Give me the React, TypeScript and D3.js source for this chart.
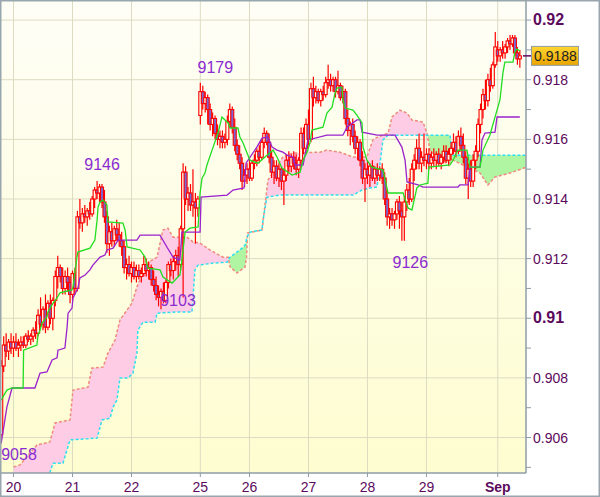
import React from "react";
import * as d3 from "d3";

type Candle = [number, number, number, number]; // open, high, low, close (price x 10000)
type Pt = [number, number]; // bar index, price x 10000

const aug19: Candle[] = [
  [9061, 9086, 9058, 9084], [9084, 9094, 9082, 9091], [9091, 9095, 9087, 9089], [9089, 9093, 9086, 9092], [9092, 9095, 9088, 9090],
];
const aug20: Candle[] = [
  [9090, 9094, 9087, 9092], [9092, 9095, 9089, 9090], [9090, 9093, 9087, 9091], [9091, 9094, 9089, 9092],
  [9092, 9094, 9090, 9091], [9091, 9095, 9090, 9094], [9094, 9096, 9092, 9093], [9093, 9095, 9091, 9094],
  [9094, 9097, 9092, 9096], [9096, 9099, 9093, 9095], [9095, 9103, 9094, 9101], [9101, 9107, 9097, 9098],
  [9098, 9104, 9096, 9103], [9103, 9108, 9095, 9097], [9097, 9106, 9096, 9105], [9105, 9108, 9098, 9100],
  [9100, 9107, 9096, 9106], [9106, 9116, 9104, 9114], [9114, 9121, 9110, 9117], [9117, 9118, 9112, 9114],
  [9114, 9117, 9108, 9110], [9110, 9116, 9108, 9114], [9114, 9117, 9109, 9112], [9112, 9114, 9105, 9108],
];
const aug21: Candle[] = [
  [9108, 9116, 9106, 9115], [9115, 9117, 9108, 9110], [9110, 9136, 9109, 9134], [9134, 9140, 9130, 9132],
  [9132, 9137, 9129, 9135], [9135, 9138, 9132, 9134], [9134, 9137, 9131, 9136], [9136, 9139, 9133, 9135],
  [9135, 9141, 9134, 9140], [9140, 9144, 9137, 9143], [9143, 9146, 9140, 9142], [9142, 9145, 9139, 9144],
  [9144, 9145, 9137, 9139], [9139, 9143, 9132, 9134], [9134, 9136, 9122, 9125], [9125, 9131, 9121, 9129],
  [9129, 9132, 9124, 9126], [9126, 9131, 9124, 9130], [9130, 9133, 9126, 9128], [9128, 9132, 9124, 9126],
  [9126, 9129, 9121, 9124], [9124, 9126, 9115, 9117], [9117, 9120, 9113, 9118], [9118, 9121, 9114, 9115],
];
const aug22: Candle[] = [
  [9115, 9119, 9112, 9117], [9117, 9119, 9113, 9114], [9114, 9118, 9112, 9116], [9116, 9118, 9113, 9114],
  [9114, 9117, 9112, 9115], [9115, 9121, 9114, 9118], [9118, 9120, 9114, 9116], [9116, 9119, 9113, 9117],
  [9117, 9118, 9111, 9113], [9113, 9116, 9109, 9111], [9111, 9114, 9106, 9108], [9108, 9111, 9104, 9107],
  [9107, 9110, 9103, 9109], [9109, 9112, 9105, 9106], [9106, 9113, 9105, 9112], [9112, 9119, 9110, 9118],
  [9118, 9120, 9114, 9116], [9116, 9121, 9113, 9119], [9119, 9123, 9116, 9121], [9121, 9124, 9114, 9118],
  [9118, 9131, 9116, 9130], [9130, 9152, 9107, 9149], [9149, 9151, 9138, 9140], [9140, 9144, 9136, 9142],
  [9142, 9145, 9136, 9138], [9138, 9150, 9134, 9139], [9139, 9142, 9125, 9137], [9137, 9141, 9134, 9140],
];
const aug25: Candle[] = [
  [9168, 9179, 9165, 9176], [9176, 9178, 9170, 9172], [9172, 9176, 9169, 9174], [9174, 9175, 9165, 9170],
  [9170, 9172, 9163, 9165], [9165, 9169, 9161, 9167], [9167, 9168, 9160, 9162], [9162, 9165, 9158, 9160],
  [9160, 9163, 9157, 9161], [9161, 9163, 9157, 9159], [9159, 9162, 9157, 9160], [9160, 9168, 9158, 9166],
  [9166, 9172, 9164, 9170], [9170, 9171, 9162, 9164], [9164, 9167, 9156, 9158], [9158, 9160, 9153, 9155],
  [9155, 9158, 9150, 9152], [9152, 9154, 9143, 9146], [9146, 9150, 9144, 9148], [9148, 9152, 9145, 9150],
];
const aug26: Candle[] = [
  [9150, 9154, 9146, 9147], [9147, 9153, 9146, 9152], [9152, 9155, 9150, 9153], [9153, 9157, 9151, 9156],
  [9156, 9158, 9152, 9154], [9154, 9160, 9153, 9159], [9159, 9164, 9157, 9162], [9162, 9163, 9158, 9159],
  [9159, 9162, 9152, 9154], [9154, 9156, 9147, 9149], [9149, 9153, 9145, 9151], [9151, 9153, 9146, 9147],
  [9147, 9152, 9144, 9150], [9150, 9151, 9143, 9146], [9146, 9150, 9138, 9148], [9148, 9155, 9146, 9153],
  [9153, 9156, 9149, 9151], [9151, 9155, 9149, 9154], [9154, 9156, 9150, 9152], [9152, 9155, 9148, 9150],
  [9150, 9154, 9147, 9153], [9153, 9164, 9151, 9162], [9162, 9164, 9155, 9157], [9157, 9167, 9155, 9165],
];
const aug27: Candle[] = [
  [9165, 9170, 9158, 9160], [9160, 9179, 9159, 9177], [9177, 9181, 9171, 9174], [9174, 9178, 9172, 9176],
  [9176, 9177, 9172, 9173], [9173, 9177, 9171, 9176], [9176, 9178, 9173, 9175], [9175, 9181, 9174, 9179],
  [9179, 9185, 9177, 9180], [9180, 9182, 9176, 9178], [9178, 9181, 9176, 9180], [9180, 9181, 9174, 9176],
  [9176, 9183, 9175, 9178], [9178, 9179, 9173, 9174], [9174, 9178, 9172, 9176], [9176, 9177, 9165, 9167],
  [9167, 9170, 9161, 9163], [9163, 9166, 9158, 9165], [9165, 9167, 9159, 9161], [9161, 9163, 9155, 9157],
  [9157, 9161, 9153, 9159], [9159, 9160, 9151, 9153], [9153, 9156, 9145, 9147], [9147, 9152, 9139, 9150],
];
const aug28: Candle[] = [
  [9150, 9153, 9145, 9148], [9148, 9152, 9144, 9151], [9151, 9153, 9146, 9147], [9147, 9151, 9145, 9150],
  [9150, 9152, 9146, 9148], [9148, 9151, 9146, 9150], [9150, 9152, 9145, 9147], [9147, 9149, 9138, 9140],
  [9140, 9143, 9131, 9134], [9134, 9137, 9130, 9135], [9135, 9137, 9131, 9133], [9133, 9136, 9130, 9135],
  [9135, 9140, 9133, 9139], [9139, 9141, 9130, 9136], [9136, 9139, 9126, 9134], [9134, 9141, 9126, 9139],
  [9139, 9145, 9136, 9143], [9143, 9147, 9138, 9140], [9140, 9152, 9139, 9150], [9150, 9155, 9146, 9153],
  [9153, 9160, 9150, 9157], [9157, 9162, 9150, 9152], [9152, 9156, 9149, 9154], [9154, 9162, 9151, 9153],
];
const aug29: Candle[] = [
  [9153, 9157, 9150, 9155], [9155, 9157, 9150, 9152], [9152, 9156, 9150, 9154], [9154, 9157, 9151, 9153],
  [9153, 9156, 9150, 9155], [9155, 9157, 9151, 9152], [9152, 9155, 9150, 9154], [9154, 9158, 9152, 9156],
  [9156, 9158, 9152, 9153], [9153, 9157, 9151, 9155], [9155, 9159, 9153, 9157], [9157, 9162, 9155, 9159],
  [9159, 9161, 9154, 9156], [9156, 9163, 9155, 9161], [9161, 9164, 9156, 9158], [9158, 9162, 9152, 9154],
  [9154, 9156, 9145, 9147], [9147, 9152, 9140, 9150], [9150, 9153, 9144, 9146], [9146, 9155, 9144, 9153],
  [9153, 9158, 9150, 9156], [9156, 9167, 9154, 9165], [9165, 9172, 9162, 9170], [9170, 9177, 9167, 9175],
  [9175, 9180, 9170, 9173], [9173, 9182, 9171, 9180], [9180, 9184, 9176, 9178], [9178, 9186, 9177, 9185],
  [9185, 9196, 9184, 9191],
];
const sep1: Candle[] = [
  [9190, 9193, 9186, 9188], [9188, 9191, 9186, 9190], [9190, 9193, 9187, 9189], [9189, 9192, 9187, 9191],
  [9191, 9194, 9189, 9193], [9193, 9195, 9190, 9192], [9192, 9195, 9191, 9194], [9194, 9195, 9188, 9189],
  [9189, 9191, 9185, 9187], [9187, 9190, 9184, 9188],
];
const candles: Candle[] = [...aug19, ...aug20, ...aug21, ...aug22, ...aug25, ...aug26, ...aug27, ...aug28, ...aug29, ...sep1];

const tenkan: Pt[] = [
  [0, 9072.6], [2.3, 9075.9], [4.4, 9076.6], [8.9, 9076.6], [9.1, 9089.3], [14.5, 9091], [15, 9094.4], [15.8, 9096],
  [16.6, 9098.4], [18.6, 9100.4], [19, 9102.1], [21.1, 9105.1], [22.7, 9106.8], [23.9, 9108.5], [28.8, 9109.5],
  [29.2, 9110.5], [30.8, 9120.5], [31.2, 9122.2], [36.1, 9123.5], [38.1, 9126.2], [39, 9132.9], [39.4, 9137.3],
  [40.2, 9139], [41.4, 9139.6], [43, 9138], [43.4, 9132.3], [49.5, 9131.9], [50.4, 9129.6], [51.2, 9123.9],
  [56.5, 9122.9], [58.5, 9120.5], [59.7, 9116.8], [64.6, 9116.2], [65.8, 9113.8], [69.5, 9111.8], [72.7, 9114.5],
  [73.5, 9119.5], [74.8, 9128.9], [76.8, 9130.2], [80.1, 9130.6], [80.9, 9142], [81.7, 9147], [82.9, 9148.7],
  [83.7, 9151.4], [86.2, 9157.4], [88.2, 9162.1], [89.8, 9167.5], [92.3, 9165.5], [93.1, 9163.8], [96.3, 9163.8],
  [97.1, 9160.8], [98.4, 9158.8], [100, 9155.4], [101.2, 9153], [104.5, 9152], [107.3, 9154.1], [110.6, 9156.4],
  [112.2, 9154.1], [114.2, 9150.4], [118.3, 9148], [121.6, 9149], [122.8, 9153], [124.4, 9155.7], [125.6, 9158.8],
  [126.4, 9163.1], [130.9, 9164.1], [132.5, 9168.8], [134.6, 9170.8], [135.8, 9175.5], [136.6, 9177.2],
  [138.6, 9177.5], [139, 9173.2], [139.9, 9170.5], [143.1, 9169.8], [144.7, 9168.1], [146.8, 9165.5],
  [147.2, 9157.4], [148.8, 9153], [150.8, 9150.7], [155.3, 9149.7], [157.4, 9142], [163.5, 9142], [165.5, 9137],
  [167.1, 9136.3], [169.1, 9143.7], [170.4, 9144.7], [173.6, 9145.3], [174, 9150.7], [182.6, 9151.4], [183.8, 9153],
  [185.8, 9156.4], [189.5, 9156.4], [190.7, 9150.7], [194.8, 9150.7], [196, 9156.4], [198.8, 9161.4],
  [201.7, 9169.8], [202.9, 9173.2], [204.1, 9182.2], [204.9, 9185.9], [208.2, 9185.9], [209, 9189.3],
  [209.8, 9190.3], [211, 9189.6],
];

const kijun: Pt[] = [
  [0, 9058.2], [2.3, 9070.2], [4.4, 9076.6], [13.7, 9076.6], [15.8, 9081.6], [18.6, 9082], [20.7, 9086],
  [22.7, 9086.7], [23.1, 9089.3], [25.9, 9090], [26.8, 9097], [27.2, 9101.7], [28.8, 9103.4], [29.2, 9106.8],
  [31.2, 9110.1], [32, 9113.5], [34.1, 9114.5], [36.1, 9116.2], [37.3, 9117.8], [40.2, 9120.5], [42.2, 9121.2],
  [43, 9122.9], [45.5, 9123.5], [47.1, 9125.6], [47.5, 9126.2], [55.2, 9126.2], [56.5, 9127.9], [64.6, 9127.9],
  [67.4, 9123.9], [69.9, 9120.5], [72.7, 9119.5], [73.5, 9128.9], [80.9, 9128.9], [81.3, 9140.6], [91.9, 9141.3],
  [94.3, 9143], [98.8, 9143.7], [99.6, 9152], [104, 9157.4], [106.1, 9160.4], [108.5, 9160.8], [110.2, 9157.4],
  [112.2, 9156.4], [114.6, 9155.7], [116.3, 9154.7], [118.7, 9154], [119.5, 9151.4], [122.8, 9151.4],
  [124.8, 9159.8], [132.5, 9161.4], [139, 9161.4], [140.7, 9164.1], [144.7, 9166.5], [146, 9166.5],
  [146.8, 9162.4], [152.9, 9161.4], [160.2, 9161.4], [163, 9157.4], [164.3, 9153], [165.1, 9145.7],
  [169.6, 9144.7], [171.6, 9144], [185.8, 9144], [186.6, 9144.7], [189.9, 9144.7], [190.7, 9150.7],
  [194.8, 9150.7], [195.6, 9159.8], [196.8, 9162.1], [200.9, 9162.4], [201.7, 9167.5], [211, 9167.5],
];

const spanA: Pt[] = [
  [5, 9050.1], [7.6, 9050.8], [14.5, 9057.5], [19.8, 9058.5], [21.9, 9064.9], [28, 9065.9], [29.2, 9075.9],
  [35.3, 9076.9], [36.9, 9083.3], [41.4, 9083.6], [43.4, 9088.3], [46.3, 9092.7], [48.3, 9099.4], [53.2, 9105.1],
  [55.2, 9110.5], [59.3, 9118.5], [63.4, 9120.5], [65.8, 9129.6], [67.8, 9130.2], [69.9, 9127.2], [75.6, 9127.2],
  [78, 9125.6], [80.9, 9125.2], [84.9, 9122.9], [90.2, 9120.5], [92.3, 9120.5], [93.1, 9117.2], [95.9, 9115.2],
  [99.2, 9117.2], [99.8, 9120.5], [100.2, 9128.6], [106.1, 9129.6], [106.5, 9132.3], [108.5, 9146.3],
  [114.6, 9154.1], [118.7, 9155.4], [129.7, 9155.7], [132.5, 9156.4], [137.8, 9155.7], [143.1, 9154.1],
  [148.8, 9154.1], [151.2, 9159.8], [153.3, 9160.8], [157.4, 9162.1], [159, 9167.5], [162.2, 9169.8],
  [165.1, 9168.8], [167.1, 9166.5], [171.6, 9165.8], [173.2, 9162.1], [174.4, 9156.4], [178.5, 9153],
  [182.6, 9152], [183.8, 9153], [194.8, 9148.7], [198, 9144.7], [200.9, 9147.4], [207, 9148.7], [213.5, 9150.6],
];

const spanB: Pt[] = [
  [5, 9045.7], [19, 9046.4], [21.1, 9051.4], [25.1, 9051.4], [28, 9059.2], [39, 9059.8], [41, 9065.9],
  [44.3, 9066.5], [45.5, 9070.2], [47.1, 9072.6], [48.3, 9080], [51.6, 9080], [53.6, 9081.6], [55.2, 9088.3],
  [55.6, 9096], [57.7, 9098.7], [62.6, 9098.7], [63.4, 9101.7], [71.5, 9102.1], [77.6, 9102.1], [78.8, 9116.2],
  [80.1, 9117.8], [86.2, 9118.5], [91.9, 9118.8], [93.1, 9120.5], [98, 9123.5], [99.2, 9124.5], [100, 9127.2],
  [101.2, 9128.9], [106.1, 9129.6], [106.5, 9132.9], [108.1, 9140.6], [113.4, 9141.3], [143.1, 9141.3],
  [146.8, 9143], [150, 9143.7], [152.9, 9144], [155.3, 9159.8], [157.4, 9161.4], [182.6, 9161.4],
  [183.4, 9154.7], [213.5, 9154.7],
];

const dayLabels = ["20", "21", "22", "25", "26", "27", "28", "29", "Sep"];
const dayStartBar = [5, 29, 53, 81, 101, 125, 149, 173, 202];

const yTickValues = [9060, 9080, 9100, 9120, 9140, 9160, 9180, 9200];
const yTickLabels = ["0.906", "0.908", "0.91", "0.912", "0.914", "0.916", "0.918", "0.92"];
const yMinorValues = [9050, 9070, 9090, 9110, 9130, 9150, 9170, 9190];

const extremeText = ["9058", "9146", "9179", "9103", "9126"];
const extremeBar = [0, 39, 81, 65, 164];
const extremeValue = [9058, 9146, 9179, 9103, 9126];

const lastPriceLabel = "0.9188";
const lastPrice = 9188;

export default function App() {
  const W = 600, H = 497;
  const PL = 0, PR = 526, PT = 1, PB = 473;
  const x = d3.scaleLinear().domain([-0.5, 213.5]).range([PL, PR]);
  const y = d3.scaleLinear().domain([9048.1, 9206.4]).range([PB, PT]);

  const aS = d3.scaleLinear().domain(spanA.map((d) => d[0])).range(spanA.map((d) => d[1]));
  const bS = d3.scaleLinear().domain(spanB.map((d) => d[0])).range(spanB.map((d) => d[1]));
  const bars = Array.from(new Set([...spanA.map((d) => d[0]), ...spanB.map((d) => d[0])])).sort((a, b) => a - b);
  const cloud = bars.map((b) => ({ b, a: aS(b), s: bS(b) }));

  const between = d3.area<any>().x((d) => x(d.b)).y0((d) => y(d.s)).y1((d) => y(d.a));
  const belowA = d3.area<any>().x((d) => x(d.b)).y0(H + 50).y1((d) => y(d.a));
  const aboveA = d3.area<any>().x((d) => x(d.b)).y0(-50).y1((d) => y(d.a));
  const ptLine = d3.line<Pt>().x((d) => x(d[0])).y((d) => y(d[1]));

  const font = "'Liberation Sans', Arial, sans-serif";
  const axisColor = "#8e9ca6";
  const textColor = "#5c0a5c";
  const extremeOffsets = [
    { dx: 0, dy: 17, anchor: "start" },
    { dx: 5, dy: -11, anchor: "middle" },
    { dx: 15, dy: -10, anchor: "middle" },
    { dx: 17, dy: -3, anchor: "middle" },
    { dx: 6, dy: 27, anchor: "middle" },
  ];
  const yl = y(lastPrice);

  return (
    <svg width={W} height={H} style={{ position: "absolute", left: 0, top: 0, display: "block" }} fontFamily={font}>
      <defs>
        <linearGradient id="bg" x1="0" y1="0" x2="0" y2="1">
          <stop offset="0" stopColor="#fefef7" />
          <stop offset="1" stopColor="#fefdd0" />
        </linearGradient>
        <linearGradient id="tag" x1="0" y1="0" x2="0" y2="1">
          <stop offset="0" stopColor="#ffd633" />
          <stop offset="1" stopColor="#eaa400" />
        </linearGradient>
        <clipPath id="plotClip">
          <rect x={PL} y={PT} width={PR - PL} height={PB - PT} />
        </clipPath>
        <clipPath id="clipBelowA">
          <path d={belowA(cloud) || ""} />
        </clipPath>
        <clipPath id="clipAboveA">
          <path d={aboveA(cloud) || ""} />
        </clipPath>
      </defs>
      <rect x={0} y={0} width={W} height={H} fill="#ffffff" />
      <rect x={PL} y={PT} width={PR - PL} height={PB - PT} fill="url(#bg)" />

      {/* grid */}
      {yTickValues.map((v) => (
        <line key={"gy" + v} x1={PL} x2={PR} y1={y(v)} y2={y(v)} stroke="#dcdcc2" strokeWidth={1} />
      ))}
      {dayStartBar.map((b) => (
        <line key={"gx" + b} x1={x(b)} x2={x(b)} y1={PT} y2={PB} stroke="#dcdcc2" strokeWidth={1} />
      ))}

      <g clipPath="url(#plotClip)">
        {/* cloud */}
        <g clipPath="url(#clipBelowA)">
          <path d={between(cloud) || ""} fill="#ffcce6" />
        </g>
        <g clipPath="url(#clipAboveA)">
          <path d={between(cloud) || ""} fill="#b0f5a2" />
        </g>
        <path d={ptLine(spanA) || ""} fill="none" stroke="#f08a80" strokeWidth={1.5} strokeDasharray="3,2" />
        <path d={ptLine(spanB) || ""} fill="none" stroke="#2ee0ee" strokeWidth={1.5} strokeDasharray="3,2" />

        {/* candles */}
        {candles.map((d, i) => {
          const [o, h, l, c] = d;
          const cx = x(i);
          const top = y(Math.max(o, c));
          const bot = y(Math.min(o, c));
          return (
            <g key={"c" + i}>
              <line x1={cx} x2={cx} y1={y(h)} y2={y(l)} stroke="#ff0000" strokeWidth={1.2} />
              <rect
                x={cx - 1.5}
                y={top}
                width={3}
                height={Math.max(1, bot - top)}
                fill={c < o ? "#7a66d0" : "#fffde6"}
                stroke="#ff0000"
                strokeWidth={1.1}
              />
            </g>
          );
        })}

        {/* ichimoku lines */}
        <path d={ptLine(kijun) || ""} fill="none" stroke="#9a22cc" strokeWidth={1.3} />
        <path d={ptLine(tenkan) || ""} fill="none" stroke="#22dd22" strokeWidth={1.3} />
      </g>

      {/* extreme labels */}
      {extremeText.map((t, k) => (
        <text
          key={"e" + k}
          x={x(extremeBar[k]) + extremeOffsets[k].dx}
          y={y(extremeValue[k]) + extremeOffsets[k].dy}
          textAnchor={extremeOffsets[k].anchor as any}
          fontSize={16}
          fill="#8a2bd0"
        >
          {t}
        </text>
      ))}

      {/* y axis */}
      <line x1={PR} x2={PR} y1={0} y2={PB} stroke={axisColor} strokeWidth={1.5} />
      {yMinorValues.map((v) => (
        <line key={"ym" + v} x1={PR} x2={PR + 5} y1={y(v)} y2={y(v)} stroke={axisColor} strokeWidth={1} />
      ))}
      {yTickValues.map((v, k) => {
        const bold = yTickLabels[k].length === 4;
        return (
          <g key={"yt" + v}>
            <line x1={PR} x2={PR + 5} y1={y(v)} y2={y(v)} stroke={axisColor} strokeWidth={1} />
            <text
              x={PR + 7}
              y={y(v) + 5}
              fontSize={bold ? 16 : 14}
              fontWeight={bold ? "bold" : "normal"}
              fill={textColor}
            >
              {yTickLabels[k]}
            </text>
          </g>
        );
      })}

      {/* last price tag */}
      <line x1={PR - 3} x2={PR + 6} y1={yl} y2={yl} stroke="#660066" strokeWidth={1.5} />
      <rect x={PR + 5.5} y={yl - 9.5} width={47} height={19} fill="url(#tag)" stroke="#8e9ca6" strokeWidth={1} />
      <text x={PR + 8} y={yl + 5} fontSize={14} fill="#222222">
        {lastPriceLabel}
      </text>

      {/* x axis */}
      <line x1={PL} x2={PR} y1={PB} y2={PB} stroke={axisColor} strokeWidth={1.5} />
      {dayStartBar.map((b, k) => (
        <g key={"xt" + b}>
          <line x1={x(b)} x2={x(b)} y1={PB} y2={PB + 4} stroke={axisColor} strokeWidth={1} />
          <text
            x={x(b)}
            y={PB + 19}
            textAnchor="middle"
            fontSize={14}
            fontWeight={dayLabels[k] === "Sep" ? "bold" : "normal"}
            fill={textColor}
          >
            {dayLabels[k]}
          </text>
        </g>
      ))}

      {/* frame */}
      <rect x={0.75} y={0.75} width={W - 1.5} height={H - 1.5} fill="none" stroke="#9aa6ae" strokeWidth={1.5} />
    </svg>
  );
}
